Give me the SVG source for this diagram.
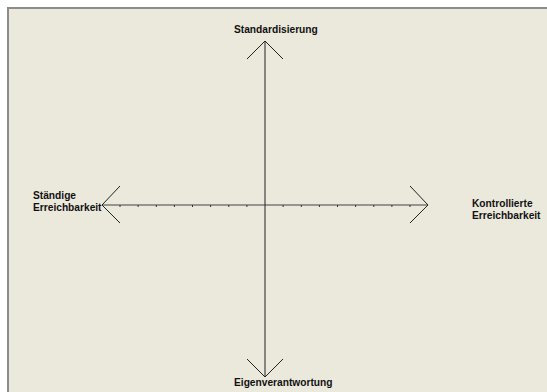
<svg xmlns="http://www.w3.org/2000/svg" width="547" height="392" viewBox="0 0 547 392">
<style>
.lbl{font-family:"Liberation Sans",Arial,sans-serif;font-weight:bold;font-size:10.2px;fill:#111}
.ax{stroke:#222;stroke-width:1;fill:none}
.hax{stroke:#7a7a7a;stroke-width:1.6;fill:none}
.tick{stroke:#333;stroke-width:1}
</style>
<rect x="0" y="0" width="547" height="392" fill="#ffffff"/>
<rect x="8" y="8" width="560" height="400" fill="#EBE8DC" stroke="#8c8c8c" stroke-width="2"/>
<g id="connectors">
<line class="hax" x1="102" y1="205" x2="428" y2="205"/>
<line class="ax" x1="265" y1="41" x2="265" y2="377"/>
<polyline class="ax" points="247,59 265,41 283,59"/>
<polyline class="ax" points="247,359 265,377 283,359"/>
<polyline class="ax" points="120,186 102,205 120,223"/>
<polyline class="ax" points="410,186 428,205 410,223"/>
<g class="tick">
<line x1="120" y1="205" x2="120" y2="207"/>
<line x1="138.1" y1="205" x2="138.1" y2="207"/>
<line x1="156.3" y1="205" x2="156.3" y2="207"/>
<line x1="174.4" y1="205" x2="174.4" y2="207"/>
<line x1="192.5" y1="205" x2="192.5" y2="207"/>
<line x1="210.6" y1="205" x2="210.6" y2="207"/>
<line x1="228.8" y1="205" x2="228.8" y2="207"/>
<line x1="246.9" y1="205" x2="246.9" y2="207"/>
<line x1="283.1" y1="205" x2="283.1" y2="207"/>
<line x1="301.3" y1="205" x2="301.3" y2="207"/>
<line x1="319.4" y1="205" x2="319.4" y2="207"/>
<line x1="337.5" y1="205" x2="337.5" y2="207"/>
<line x1="355.6" y1="205" x2="355.6" y2="207"/>
<line x1="373.8" y1="205" x2="373.8" y2="207"/>
<line x1="391.9" y1="205" x2="391.9" y2="207"/>
<line x1="410" y1="205" x2="410" y2="207"/>
</g>
</g>
<g id="top"><text class="lbl" x="234" y="33">Standardisierung</text></g>
<g id="bottom"><text class="lbl" x="234" y="386">Eigenverantwortung</text></g>
<g id="left"><text class="lbl" x="33" y="199">Ständige</text><text class="lbl" x="33" y="211">Erreichbarkeit</text></g>
<g id="right"><text class="lbl" x="472" y="207">Kontrollierte</text><text class="lbl" x="472" y="218.5">Erreichbarkeit</text></g>
</svg>
